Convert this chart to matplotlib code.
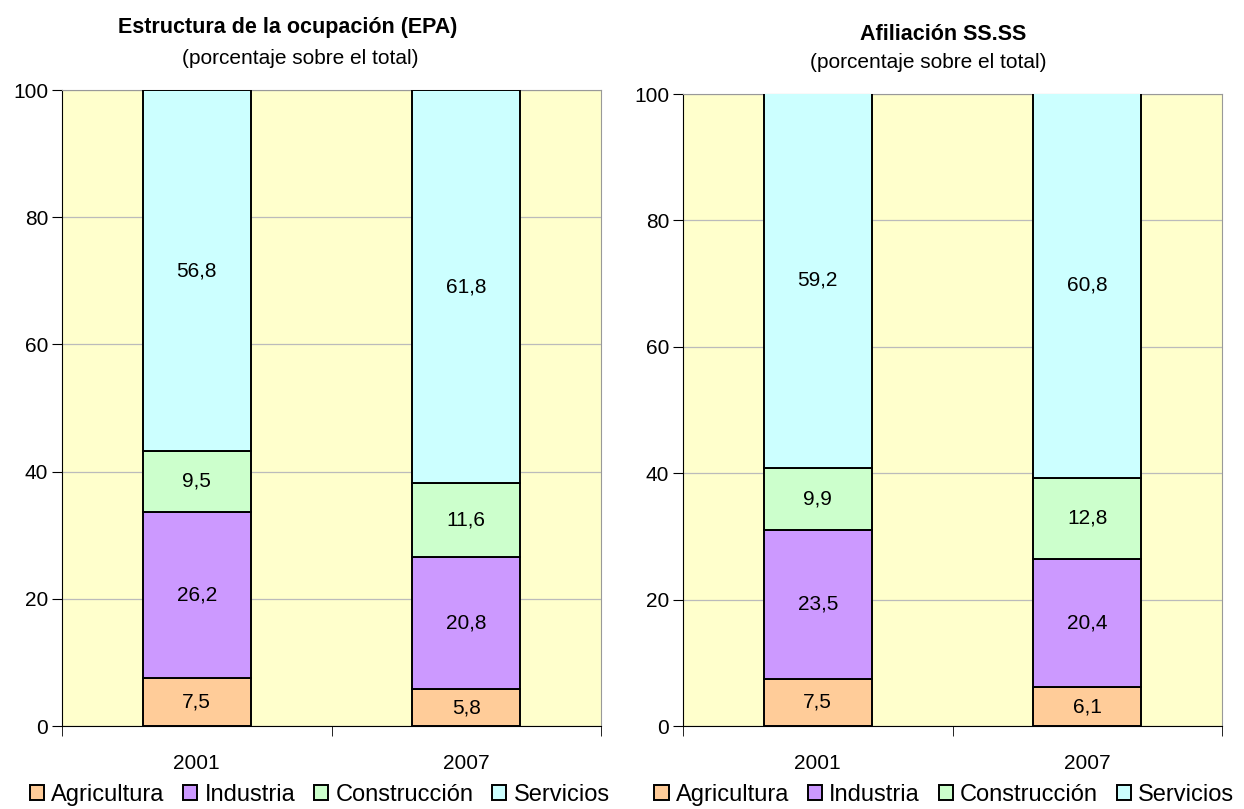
import matplotlib.pyplot as plt
import numpy as np

plt.rcParams['font.family'] = ['Liberation Sans', 'DejaVu Sans']

years = ['2001', '2007']
sectors = ['Agricultura', 'Industria', 'Construcción', 'Servicios']
colors = ['#FFCC99', '#CC99FF', '#CCFFCC', '#CCFFFF']

epa_agricultura = [7.5, 5.8]
epa_industria = [26.2, 20.8]
epa_construccion = [9.5, 11.6]
epa_servicios = [56.8, 61.8]

ss_agricultura = [7.5, 6.1]
ss_industria = [23.5, 20.4]
ss_construccion = [9.9, 12.8]
ss_servicios = [59.2, 60.8]

fig = plt.figure(figsize=(12.44, 8.09), dpi=100)
W, H = 1244, 809
ax1 = fig.add_axes([62 / W, 1 - 726 / H, (601 - 62) / W, (726 - 90) / H])
ax2 = fig.add_axes([683 / W, 1 - 726 / H, (1222 - 683) / W, (726 - 94) / H])


def draw(ax, series, title, tpos, spos, legx):
    x = np.arange(len(years))
    bottom = np.zeros(len(years))
    for vals, col, name in zip(series, colors, sectors):
        ax.bar(x, vals, 0.4, bottom=bottom, color=col, edgecolor='black',
               linewidth=1.4, label=name, zorder=3)
        for xi, b, v in zip(x, bottom, vals):
            ax.text(xi, b + v / 2, f'{v:.1f}'.replace('.', ','), ha='center',
                    va='center', fontsize=15, zorder=4)
        bottom += np.array(vals)
    ax.set_facecolor('#FFFFCC')
    ax.set_xlim(-0.5, 1.5)
    ax.set_ylim(0, 100)
    ax.set_yticks([0, 20, 40, 60, 80, 100])
    ax.yaxis.grid(True, color='#BBBBBB', linewidth=0.9, zorder=0)
    ax.set_xticks(x)
    ax.set_xticklabels(years)
    ax.set_xticks([-0.5, 0.5, 1.5], minor=True)
    ax.tick_params(axis='x', which='major', length=0, pad=20, labelsize=15)
    ax.tick_params(axis='x', which='minor', length=7, direction='out')
    ax.tick_params(axis='y', length=7, direction='out', labelsize=15, pad=3)
    for s in ['top', 'right']:
        ax.spines[s].set_color('#999999')
    for s in ['left', 'bottom']:
        ax.spines[s].set_color('black')
    fig.text(tpos[0] / W, 1 - tpos[1] / H, title, ha='center', va='center',
             fontsize=15.5, fontweight='bold')
    fig.text(spos[0] / W, 1 - spos[1] / H, '(porcentaje sobre el total)',
             ha='center', va='center', fontsize=15)
    ax.legend(loc='center', bbox_to_anchor=(legx, -(795 - 726) / 636), ncol=4,
              frameon=False, fontsize=17, handlelength=0.6, handleheight=0.6,
              handletextpad=0.3, columnspacing=0.8, borderaxespad=0,
              borderpad=0)


draw(ax1, [epa_agricultura, epa_industria, epa_construccion, epa_servicios],
     'Estructura de la ocupación (EPA)', (288, 28), (300, 58), 0.478)
draw(ax2, [ss_agricultura, ss_industria, ss_construccion, ss_servicios],
     'Afiliación SS.SS', (943, 35), (928, 62), 0.485)

fig.savefig('out.png', dpi=100)
